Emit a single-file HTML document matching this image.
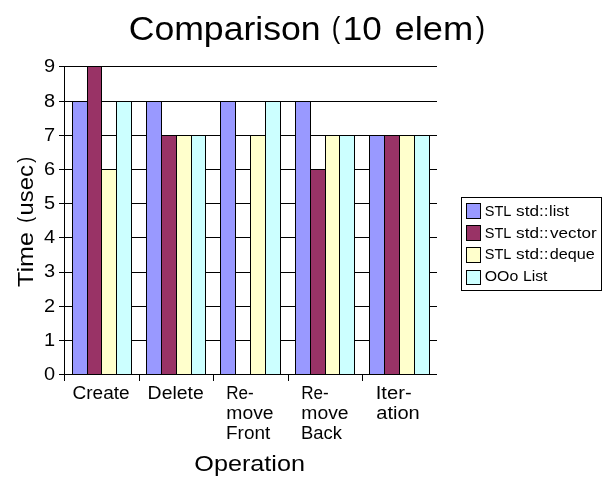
<!DOCTYPE html>
<html>
<head>
<meta charset="utf-8">
<title>Comparison (10 elem)</title>
<style>
html,body{margin:0;padding:0;background:#ffffff;}
body{width:615px;height:488px;overflow:hidden;font-family:"Liberation Sans",sans-serif;}
svg{display:block;}
svg text{font-family:"Liberation Sans",sans-serif;fill:#000000;}
</style>
</head>
<body>
<svg width="615" height="488" viewBox="0 0 615 488">
<rect x="0" y="0" width="615" height="488" fill="#ffffff"/>

<g shape-rendering="crispEdges" stroke="#000000" stroke-width="1" fill="none">
<line x1="59" y1="374.5" x2="437" y2="374.5"/>
<line x1="59" y1="340.5" x2="437" y2="340.5"/>
<line x1="59" y1="306.5" x2="437" y2="306.5"/>
<line x1="59" y1="272.5" x2="437" y2="272.5"/>
<line x1="59" y1="237.5" x2="437" y2="237.5"/>
<line x1="59" y1="203.5" x2="437" y2="203.5"/>
<line x1="59" y1="169.5" x2="437" y2="169.5"/>
<line x1="59" y1="135.5" x2="437" y2="135.5"/>
<line x1="59" y1="101.5" x2="437" y2="101.5"/>
<line x1="59" y1="66.5" x2="437" y2="66.5"/>
<line x1="64.5" y1="66" x2="64.5" y2="375"/>
<line x1="64.5" y1="374" x2="64.5" y2="381"/>
<line x1="139.5" y1="374" x2="139.5" y2="381"/>
<line x1="213.5" y1="374" x2="213.5" y2="381"/>
<line x1="288.5" y1="374" x2="288.5" y2="381"/>
<line x1="362.5" y1="374" x2="362.5" y2="381"/>
</g>
<g shape-rendering="crispEdges" stroke="#000000" stroke-width="1">
<rect x="72.5" y="101.5" width="15" height="273" fill="#9999ff"/>
<rect x="87.5" y="66.5" width="14" height="308" fill="#993366"/>
<rect x="101.5" y="169.5" width="15" height="205" fill="#ffffcc"/>
<rect x="116.5" y="101.5" width="15" height="273" fill="#ccffff"/>
<rect x="146.5" y="101.5" width="15" height="273" fill="#9999ff"/>
<rect x="161.5" y="135.5" width="15" height="239" fill="#993366"/>
<rect x="176.5" y="135.5" width="15" height="239" fill="#ffffcc"/>
<rect x="191.5" y="135.5" width="14" height="239" fill="#ccffff"/>
<rect x="220.5" y="101.5" width="15" height="273" fill="#9999ff"/>
<rect x="250.5" y="135.5" width="15" height="239" fill="#ffffcc"/>
<rect x="265.5" y="101.5" width="15" height="273" fill="#ccffff"/>
<rect x="295.5" y="101.5" width="15" height="273" fill="#9999ff"/>
<rect x="310.5" y="169.5" width="15" height="205" fill="#993366"/>
<rect x="325.5" y="135.5" width="14" height="239" fill="#ffffcc"/>
<rect x="339.5" y="135.5" width="15" height="239" fill="#ccffff"/>
<rect x="369.5" y="135.5" width="15" height="239" fill="#9999ff"/>
<rect x="384.5" y="135.5" width="15" height="239" fill="#993366"/>
<rect x="399.5" y="135.5" width="15" height="239" fill="#ffffcc"/>
<rect x="414.5" y="135.5" width="15" height="239" fill="#ccffff"/>
</g>
<g style="will-change:opacity;opacity:0.999">
<text x="128.68" y="39.7" font-size="33" text-anchor="start" textLength="191.95" lengthAdjust="spacingAndGlyphs" >Comparison</text>
<text x="331.64" y="37.65" font-size="30.05" text-anchor="start" textLength="8.51" lengthAdjust="spacingAndGlyphs" >(</text>
<text x="342.87" y="39.7" font-size="33" text-anchor="start" textLength="38.95" lengthAdjust="spacingAndGlyphs" >10</text>
<text x="394.56" y="39.7" font-size="33" text-anchor="start" textLength="78.65" lengthAdjust="spacingAndGlyphs" >elem</text>
<text x="475.84" y="37.65" font-size="30.05" text-anchor="start" textLength="9.43" lengthAdjust="spacingAndGlyphs" >)</text>
<text x="43.91" y="380" font-size="17.6" text-anchor="start" textLength="11.13" lengthAdjust="spacingAndGlyphs" >0</text>
<text x="43.91" y="346" font-size="17.6" text-anchor="start" textLength="11.13" lengthAdjust="spacingAndGlyphs" >1</text>
<text x="43.91" y="312" font-size="17.6" text-anchor="start" textLength="11.13" lengthAdjust="spacingAndGlyphs" >2</text>
<text x="43.91" y="277" font-size="17.6" text-anchor="start" textLength="11.13" lengthAdjust="spacingAndGlyphs" >3</text>
<text x="43.91" y="243.3" font-size="17.6" text-anchor="start" textLength="11.13" lengthAdjust="spacingAndGlyphs" >4</text>
<text x="43.91" y="209" font-size="17.6" text-anchor="start" textLength="11.13" lengthAdjust="spacingAndGlyphs" >5</text>
<text x="43.91" y="175" font-size="17.6" text-anchor="start" textLength="11.13" lengthAdjust="spacingAndGlyphs" >6</text>
<text x="43.91" y="141" font-size="17.6" text-anchor="start" textLength="11.13" lengthAdjust="spacingAndGlyphs" >7</text>
<text x="43.91" y="107" font-size="17.6" text-anchor="start" textLength="11.13" lengthAdjust="spacingAndGlyphs" >8</text>
<text x="43.91" y="72.2" font-size="17.6" text-anchor="start" textLength="11.13" lengthAdjust="spacingAndGlyphs" >9</text>
<g transform="translate(33,286) rotate(-90)"><text x="-1.0" y="0.0" font-size="21.5" text-anchor="start" textLength="54.9" lengthAdjust="spacingAndGlyphs" >Time</text><text x="63.28" y="-1.12" font-size="20.64" text-anchor="start" textLength="5.94" lengthAdjust="spacingAndGlyphs" >(</text><text x="70.59" y="0.0" font-size="21.5" text-anchor="start" textLength="50.22" lengthAdjust="spacingAndGlyphs" >usec</text><text x="123.19" y="-1.12" font-size="20.64" text-anchor="start" textLength="5.94" lengthAdjust="spacingAndGlyphs" >)</text></g>
<text x="72.5" y="399.0" font-size="17.5" text-anchor="start" textLength="57.1" lengthAdjust="spacingAndGlyphs" >Create</text>
<text x="147.64" y="399.0" font-size="17.5" text-anchor="start" textLength="56.12" lengthAdjust="spacingAndGlyphs" >Delete</text>
<text x="226.3" y="399.0" font-size="17.5" text-anchor="start" textLength="27.51" lengthAdjust="spacingAndGlyphs" >Re-</text>
<text x="226.29" y="418.7" font-size="17.5" text-anchor="start" textLength="47.27" lengthAdjust="spacingAndGlyphs" >move</text>
<text x="226.06" y="438.7" font-size="17.5" text-anchor="start" textLength="44.19" lengthAdjust="spacingAndGlyphs" >Front</text>
<text x="301.3" y="399.0" font-size="17.5" text-anchor="start" textLength="27.51" lengthAdjust="spacingAndGlyphs" >Re-</text>
<text x="301.29" y="418.7" font-size="17.5" text-anchor="start" textLength="47.27" lengthAdjust="spacingAndGlyphs" >move</text>
<text x="301.06" y="438.7" font-size="17.5" text-anchor="start" textLength="40.89" lengthAdjust="spacingAndGlyphs" >Back</text>
<text x="375.76" y="399.0" font-size="17.5" text-anchor="start" textLength="35.9" lengthAdjust="spacingAndGlyphs" >Iter-</text>
<text x="376.25" y="418.7" font-size="17.5" text-anchor="start" textLength="43.5" lengthAdjust="spacingAndGlyphs" >ation</text>
<text x="194.29" y="470.8" font-size="21.5" text-anchor="start" textLength="110.67" lengthAdjust="spacingAndGlyphs" >Operation</text>
</g>
<g shape-rendering="crispEdges" stroke="#000000" stroke-width="1">
<rect x="461.5" y="197.5" width="140" height="93" fill="#ffffff"/>
<rect x="466.5" y="203.5" width="14" height="15" fill="#9999ff"/>
<rect x="466.5" y="225.5" width="14" height="15" fill="#993366"/>
<rect x="466.5" y="247.5" width="14" height="15" fill="#ffffcc"/>
<rect x="466.5" y="270.5" width="14" height="14" fill="#ccffff"/>
</g>
<g style="will-change:opacity;opacity:0.999">
<text x="484.77" y="216.0" font-size="14.3" text-anchor="start" textLength="26.66" lengthAdjust="spacingAndGlyphs" >STL</text>
<text x="516.05" y="216.0" font-size="14.3" text-anchor="start" textLength="32.46" lengthAdjust="spacingAndGlyphs" >std::</text>
<text x="549.1" y="216.0" font-size="14.3" text-anchor="start" textLength="19.8" lengthAdjust="spacingAndGlyphs" >list</text>
<text x="484.77" y="237.9" font-size="14.3" text-anchor="start" textLength="26.66" lengthAdjust="spacingAndGlyphs" >STL</text>
<text x="516.05" y="237.9" font-size="14.3" text-anchor="start" textLength="32.46" lengthAdjust="spacingAndGlyphs" >std::</text>
<text x="550.05" y="237.9" font-size="14.3" text-anchor="start" textLength="46.59" lengthAdjust="spacingAndGlyphs" >vector</text>
<text x="484.77" y="259.4" font-size="14.3" text-anchor="start" textLength="26.66" lengthAdjust="spacingAndGlyphs" >STL</text>
<text x="516.05" y="259.4" font-size="14.3" text-anchor="start" textLength="32.46" lengthAdjust="spacingAndGlyphs" >std::</text>
<text x="549.76" y="259.4" font-size="14.3" text-anchor="start" textLength="45.08" lengthAdjust="spacingAndGlyphs" >deque</text>
<text x="484.76" y="281.3" font-size="14.3" text-anchor="start" textLength="33.53" lengthAdjust="spacingAndGlyphs" >OOo</text>
<text x="522.94" y="281.3" font-size="14.3" text-anchor="start" textLength="24.56" lengthAdjust="spacingAndGlyphs" >List</text>
</g>
</svg>
</body>
</html>
